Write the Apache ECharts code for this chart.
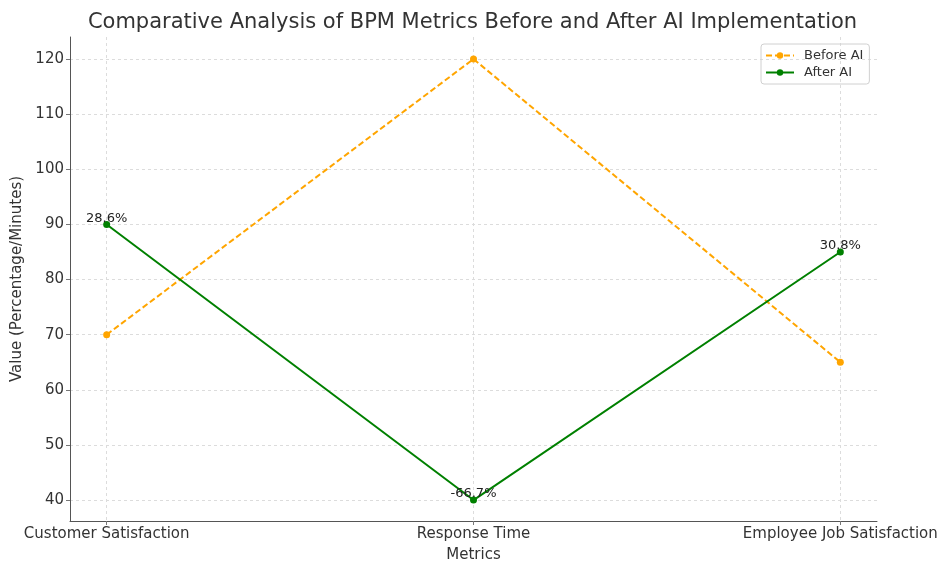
<!DOCTYPE html>
<html>
<head>
<meta charset="utf-8">
<script src="https://cdn.jsdelivr.net/npm/echarts@6/dist/echarts.min.js"></script>
<style>html,body{margin:0;padding:0;background:#fff}#c{width:945px;height:562px}</style>
</head>
<body>
<div id="c"></div>
<script>
const categories = ["Customer Satisfaction", "Response Time", "Employee Job Satisfaction"];
const beforeAI = [70, 120, 65];
const afterAI = [90, 40, 85];
const changeLabels = ["28.6%", "-66.7%", "30.8%"];
const yTicks = [40, 50, 60, 70, 80, 90, 100, 110, 120];
const xTicks = [0, 1, 2];

const font = "DejaVu Sans";
const chart = echarts.init(document.getElementById('c'), null, {renderer: 'canvas'});
const toPts = arr => arr.map((v, i) => [i, v]);

chart.setOption({
  animation: false,
  backgroundColor: '#fff',
  textStyle: {fontFamily: font},
  title: {
    text: 'Comparative Analysis of BPM Metrics Before and After AI Implementation',
    left: 'center', top: 7,
    textStyle: {fontFamily: font, fontSize: 21, fontWeight: 'normal', color: '#333'}
  },
  legend: {
    left: 761, top: 44, orient: 'vertical',
    borderColor: '#d0d0d0', borderWidth: 1, borderRadius: 3,
    padding: [5, 6, 5, 4], itemGap: 4, itemWidth: 28, itemHeight: 8,
    textStyle: {fontFamily: font, fontSize: 13, color: '#333', padding: [0, 0, 0, 5]},
    data: ['Before AI', 'After AI']
  },
  grid: {left: 70, right: 68, top: 37, bottom: 41, containLabel: false, outerBoundsMode: 'none'},
  xAxis: {
    type: 'value', min: -0.1, max: 2.1,
    name: 'Metrics', nameLocation: 'middle', nameGap: 27,
    nameTextStyle: {fontFamily: font, fontSize: 15, color: '#333', verticalAlign: 'top'},
    axisLine: {show: true, onZero: false, lineStyle: {color: '#555', width: 1}},
    axisTick: {show: true, length: 4, customValues: xTicks, lineStyle: {color: '#777'}},
    axisLabel: {customValues: xTicks, margin: 6, fontFamily: font, fontSize: 15, color: '#333',
      formatter: v => categories[Math.round(v)] || ''},
    splitLine: {show: true, lineStyle: {color: '#dcdcdc', type: [3, 3], width: 1}}
  },
  yAxis: {
    type: 'value', min: 36.2, max: 124,
    name: 'Value (Percentage/Minutes)', nameLocation: 'middle', nameGap: 43,
    nameTextStyle: {fontFamily: font, fontSize: 15, color: '#333'},
    axisLine: {show: true, onZero: false, lineStyle: {color: '#555', width: 1}},
    axisTick: {show: true, length: 4, customValues: yTicks, lineStyle: {color: '#777'}},
    axisLabel: {customValues: yTicks, margin: 6, fontFamily: font, fontSize: 15, color: '#333'},
    splitLine: {show: true, lineStyle: {color: '#dcdcdc', type: [3, 3], width: 1}}
  },
  series: [
    {
      name: 'Before AI', type: 'line', data: toPts(beforeAI),
      symbol: 'circle', symbolSize: 7,
      itemStyle: {color: '#FFA500'},
      lineStyle: {color: '#FFA500', width: 2, type: [6, 3]},
      z: 2
    },
    {
      name: 'After AI', type: 'line', data: toPts(afterAI),
      symbol: 'circle', symbolSize: 7,
      itemStyle: {color: '#008000'},
      lineStyle: {color: '#008000', width: 2},
      label: {show: true, position: 'top', distance: -4, fontFamily: font, fontSize: 13, color: '#222',
        formatter: p => changeLabels[p.dataIndex]},
      z: 3
    }
  ]
});
</script>
</body>
</html>
